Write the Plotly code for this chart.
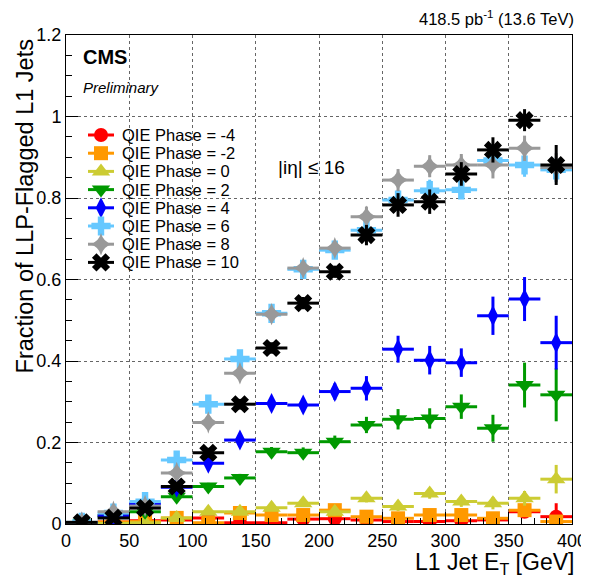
import plotly.graph_objects as go

bin_centers = [12.5, 37.5, 62.5, 87.5, 112.5, 137.5, 162.5, 187.5,
               212.5, 237.5, 262.5, 287.5, 312.5, 337.5, 362.5, 387.5]
bin_half_width = 12.5

labels = ["QIE Phase = -4", "QIE Phase = -2", "QIE Phase = 0", "QIE Phase = 2",
          "QIE Phase = 4", "QIE Phase = 6", "QIE Phase = 8", "QIE Phase = 10"]

phase_m4 = [0.003, 0.005, 0.008, 0.010, 0.015, 0.003, 0.003, 0.012,
            0.013, 0.010, 0.006, 0.006, 0.008, 0.010, 0.030, 0.018]
phase_m4_err = [0.002, 0.003, 0.003, 0.004, 0.005, 0.004, 0.005, 0.006,
                0.007, 0.008, 0.008, 0.009, 0.010, 0.012, 0.015, 0.033]

phase_m2 = [0.003, 0.005, 0.006, 0.015, 0.003, 0.027, 0.022, 0.022,
            0.034, 0.018, 0.014, 0.022, 0.022, 0.014, 0.034, 0.006]
phase_m2_err = [0.002, 0.003, 0.003, 0.004, 0.005, 0.005, 0.005, 0.006,
                0.008, 0.008, 0.008, 0.010, 0.010, 0.012, 0.015, 0.012]

phase_0 = [0.002, 0.001, 0.003, 0.015, 0.030, 0.030, 0.040, 0.051,
           0.030, 0.063, 0.043, 0.075, 0.055, 0.051, 0.063, 0.110]
phase_0_err = [0.002, 0.003, 0.003, 0.005, 0.006, 0.006, 0.007, 0.008,
               0.009, 0.010, 0.011, 0.013, 0.013, 0.015, 0.018, 0.035]

phase_2 = [0.003, 0.020, 0.030, 0.067, 0.092, 0.113, 0.177, 0.175,
           0.202, 0.243, 0.257, 0.259, 0.288, 0.235, 0.341, 0.317]
phase_2_err = [0.002, 0.004, 0.005, 0.008, 0.009, 0.010, 0.012, 0.013,
               0.015, 0.020, 0.025, 0.025, 0.030, 0.033, 0.055, 0.065]

phase_4 = [0.003, 0.020, 0.050, 0.090, 0.149, 0.206, 0.296, 0.292,
           0.325, 0.333, 0.429, 0.402, 0.396, 0.511, 0.552, 0.445]
phase_4_err = [0.002, 0.004, 0.006, 0.008, 0.010, 0.012, 0.014, 0.016,
               0.020, 0.030, 0.033, 0.035, 0.035, 0.047, 0.054, 0.066]

phase_6 = [0.004, 0.027, 0.055, 0.157, 0.294, 0.405, 0.517, 0.625,
           0.672, 0.721, 0.795, 0.818, 0.820, 0.892, 0.881, 0.869]
phase_6_err = [0.002, 0.004, 0.006, 0.010, 0.012, 0.013, 0.014, 0.014,
               0.014, 0.014, 0.025, 0.027, 0.020, 0.017, 0.029, 0.030]

phase_8 = [0.004, 0.030, 0.044, 0.125, 0.249, 0.370, 0.515, 0.628,
           0.677, 0.754, 0.844, 0.878, 0.881, 0.881, 0.922, 0.875]
phase_8_err = [0.002, 0.004, 0.006, 0.010, 0.012, 0.013, 0.014, 0.014,
               0.015, 0.025, 0.027, 0.027, 0.027, 0.033, 0.031, 0.035]

phase_10 = [0.004, 0.015, 0.039, 0.092, 0.175, 0.294, 0.432, 0.542,
            0.619, 0.709, 0.783, 0.791, 0.859, 0.918, 0.991, 0.881]
phase_10_err = [0.002, 0.004, 0.006, 0.010, 0.012, 0.013, 0.014, 0.015,
                0.015, 0.025, 0.029, 0.030, 0.029, 0.031, 0.027, 0.049]

series = [phase_m4, phase_m2, phase_0, phase_2, phase_4, phase_6, phase_8, phase_10]
errors = [phase_m4_err, phase_m2_err, phase_0_err, phase_2_err,
          phase_4_err, phase_6_err, phase_8_err, phase_10_err]
colors = ["#FF0000", "#FF9900", "#CCCC33", "#009900", "#0000FF", "#66C8FF", "#999999", "#000000"]
symbols = ["circle", "square", "triangle-up", "triangle-down", "diamond-tall", "cross", "star-diamond", "x"]
sizes = [14, 14, 16, 16, 15, 16, 16, 16]

FONT = "Liberation Sans, Arial, Helvetica, sans-serif"

# page body has an 8px margin; plot area is 506x489 px
PLOT_W, PLOT_H = 506, 489
ML, MR, MT, MB = 58, 17, 27, 56

fig = go.Figure()

for vals, errs, col, sym, sz in zip(series, errors, colors, symbols, sizes):
    fig.add_trace(go.Scatter(
        x=bin_centers, y=vals, mode="markers", showlegend=False,
        marker=dict(color=col, symbol=sym, size=sz, line=dict(width=0)),
        error_x=dict(type="constant", value=bin_half_width, color=col, thickness=3, width=0),
        error_y=dict(type="data", array=errs, color=col, thickness=3, width=0),
    ))

# ROOT-style legend drawn on an overlay unit axis (marker with horizontal bar)
leg_x_marker = 35 / PLOT_W
leg_bar_half = 13 / PLOT_W
leg_x_text = 54 / PLOT_W
leg_top = 1 - (135 - 35) / PLOT_H
leg_step = 18.2 / PLOT_H
annotations = []
for i, (lab, col, sym, sz) in enumerate(zip(labels, colors, symbols, sizes)):
    yy = leg_top - i * leg_step
    fig.add_trace(go.Scatter(
        x=[leg_x_marker], y=[yy], xaxis="x2", yaxis="y2", mode="markers",
        showlegend=False, hoverinfo="skip",
        marker=dict(color=col, symbol=sym, size=sz, line=dict(width=0)),
        error_x=dict(type="constant", value=leg_bar_half, color=col, thickness=3, width=0),
    ))
    annotations.append(dict(text=lab, xref="paper", yref="paper", x=leg_x_text, y=yy,
                            xanchor="left", yanchor="middle", showarrow=False,
                            font=dict(family=FONT, size=16.5, color="black")))

axis_common = dict(
    showline=True, linecolor="black", linewidth=1, mirror=True,
    ticks="inside", tickcolor="black", tickwidth=1, ticklen=12,
    showgrid=True, gridcolor="#666666", griddash="dot", gridwidth=1,
    zeroline=False, automargin=False,
    tickfont=dict(family=FONT, size=18, color="black"),
)

fig.update_xaxes(range=[0, 400], tickvals=[0, 50, 100, 150, 200, 250, 300, 350, 400],
                 ticktext=["0", "50", "100", "150", "200", "250", "300", "350", "400"],
                 minor=dict(dtick=10, tick0=0, ticks="inside", ticklen=6, tickcolor="black", showgrid=False),
                 **axis_common)
fig.update_yaxes(range=[0, 1.2], tickvals=[0, 0.2, 0.4, 0.6, 0.8, 1.0, 1.2],
                 ticktext=["0", "0.2", "0.4", "0.6", "0.8", "1", "1.2"],
                 minor=dict(dtick=0.05, tick0=0, ticks="inside", ticklen=6, tickcolor="black", showgrid=False),
                 **axis_common)

annotations += [
    dict(text="<b>CMS</b>", xref="paper", yref="paper", x=0.029, y=0.955,
         xanchor="left", yanchor="middle", showarrow=False,
         font=dict(family=FONT, size=20, color="black")),
    dict(text="<i>Preliminary</i>", xref="paper", yref="paper", x=0.029, y=0.892,
         xanchor="left", yanchor="middle", showarrow=False,
         font=dict(family=FONT, size=15, color="black")),
    dict(text="418.5 pb<sup>-1</sup> (13.6 TeV)", xref="paper", yref="paper", x=1.008, y=1.035,
         xanchor="right", yanchor="middle", showarrow=False,
         font=dict(family=FONT, size=16.5, color="black")),
    dict(text="|iη| ≤ 16", xref="paper", yref="paper", x=0.415, y=0.73,
         xanchor="left", yanchor="middle", showarrow=False,
         font=dict(family=FONT, size=19, color="black")),
    dict(text="L1 Jet E<sub>T</sub> [GeV]", xref="paper", yref="paper", x=1.008, y=-0.048,
         xanchor="right", yanchor="top", showarrow=False,
         font=dict(family=FONT, size=23, color="black")),
    dict(text="Fraction of LLP-Flagged L1 Jets", xref="paper", yref="paper", x=-0.081, y=0.995,
         xanchor="center", yanchor="top", textangle=-90, showarrow=False,
         font=dict(family=FONT, size=23.5, color="black")),
]

fig.update_layout(
    width=ML + PLOT_W + MR, height=MT + PLOT_H + MB,
    margin=dict(l=ML, r=MR, t=MT, b=MB, autoexpand=False),
    plot_bgcolor="white", paper_bgcolor="white",
    font=dict(family=FONT, color="black"),
    showlegend=False,
    xaxis2=dict(overlaying="x", range=[0, 1], visible=False, fixedrange=True),
    yaxis2=dict(overlaying="y", range=[0, 1], visible=False, fixedrange=True),
    annotations=annotations,
)

fig.write_html("out.html")
